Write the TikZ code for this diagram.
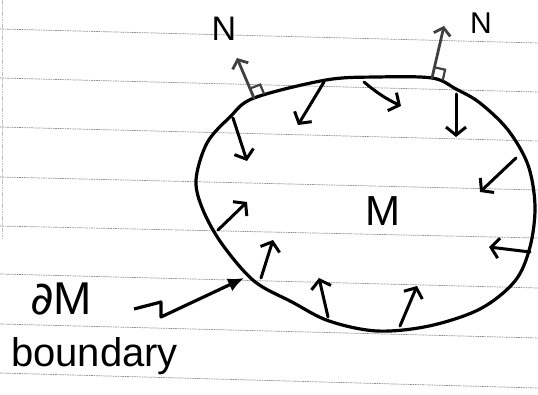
\documentclass[tikz,border=0pt]{standalone}
\usepackage{fontspec}
\setmainfont{Liberation Sans}
\newfontfamily\symbfont{DejaVu Sans}
\usetikzlibrary{arrows.meta}

\begin{document}
\begin{tikzpicture}[
    x=1pt, y=-1pt,
    ruled/.style={draw=black!45, line width=0.7pt, dash pattern=on 1.6pt off 0.8pt},
    rim/.style={draw=black, line width=3.2pt, line join=round},
    inarrow/.style={-{Straight Barb[length=8pt,width=20pt]}, line width=3pt, line cap=round},
    normal/.style={-{Straight Barb[length=7pt,width=17pt]}, draw=black!75, line width=2.8pt, line cap=round},
    rightangle/.style={draw=black!75, line width=2.2pt},
    pointer/.style={-{Latex[length=16pt,width=14pt]}, line width=3.2pt, line join=round},
    hand/.style={inner sep=0pt, font=\fontsize{42}{46}\selectfont}
  ]
  \useasboundingbox (0,0) rectangle (538,395);

  % ruled paper
  \foreach \yl/\yr in {29/43, 78/92, 127/141, 177/190, 226/238, 274/288, 324/338, 373/388}
    \draw[ruled] (0,\yl) -- (538,\yr);
  \draw[ruled, draw=black!25] (2,0) -- (2,240);

  % the region M and its boundary
  \draw[rim] plot[smooth cycle, tension=0.55] coordinates {
    (254,98) (326,80) (377,77) (432,78) (456,89) (480,103) (508,130)
    (528,165) (535,206) (530,247) (515,281) (480,309) (429,326)
    (377,331) (329,321) (292,302) (254,281) (222,244) (203,210)
    (196,180) (207,143) (230,117)};

  \node[hand] (M) at (383,211) {M};

  % inward pointing vectors
  \foreach \i/\sx/\sy/\ex/\ey in {1/233/118/247/161, 2/324/82/298/125,
      4/456/94/456/137, 5/516/158/480/192,
      6/530/252/489/247, 7/400/326/417/286, 8/328/317/319/278,
      9/261/278/273/240, 10/218/230/247/202} {
    \coordinate (in\i) at (\sx,\sy);
    \coordinate (tip\i) at (\ex,\ey);
    \draw[inarrow] (in\i) -- (tip\i);
  }
  \coordinate (in3) at (364,82);
  \coordinate (tip3) at (401,106);
  \draw[inarrow] (in3) to[bend right=7] (tip3);

  % outward normals
  \coordinate (foot1) at (254,98);
  \coordinate (head1) at (237,58);
  \coordinate (foot2) at (432,78);
  \coordinate (head2) at (444,26);
  \draw[normal] (foot1) -- (head1);
  \draw[normal] (foot2) -- (head2);
  \draw[rightangle] (250,88.5) -- (260.2,84.6) -- (264.2,94.2);
  \draw[rightangle] (434.4,67.3) -- (445.1,69.7) -- (442.7,80.4);
  \node[hand, font=\fontsize{34}{36}\selectfont] (N1) at (224,29) {N};
  \node[hand, font=\fontsize{30}{32}\selectfont] (N2) at (481,23) {N};

  % label for the boundary
  \node[hand, anchor=base west, font=\fontsize{46}{50}\selectfont] (dM) at (30,315) {{\symbfont ∂}M};
  \node[hand, anchor=base west, font=\fontsize{40}{44}\selectfont] (bnd) at (11,366) {boundary};
  \coordinate (zig1) at (134,309);
  \coordinate (zig2) at (161,302);
  \coordinate (zig3) at (161,317);
  \coordinate (onrim) at (244,278);
  \draw[pointer] (zig1) -- (zig2) -- (zig3) -- (onrim);
\end{tikzpicture}
\end{document}
